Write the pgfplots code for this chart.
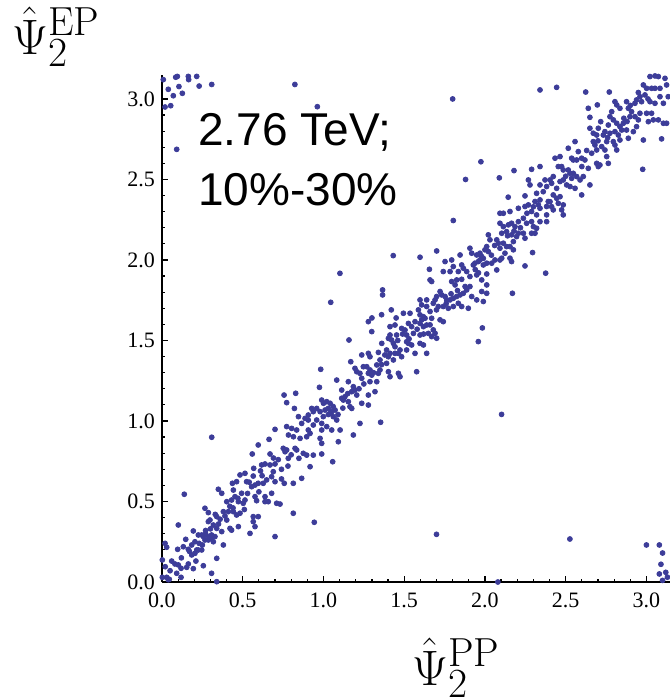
\documentclass[border=0pt]{standalone}
\usepackage{pgfplots}
\pgfplotsset{compat=1.18}
\usepackage{fontspec}
\newfontfamily\serifnum{Liberation Serif}
\newfontfamily\arialfont{Liberation Sans}
\definecolor{ptblue}{RGB}{61,61,153}
\begin{document}
\begin{tikzpicture}
\begin{axis}[
  at={(0pt,0pt)}, anchor=south west,
  scale only axis, width=254pt, height=253.6pt,
  xmin=0, xmax=3.146, ymin=0, ymax=3.15,
  axis lines*=left,
  axis line style={line width=0.8pt, black},
  tick align=inside,
  xtick={0,0.5,1,1.5,2,2.5,3}, ytick={0,0.5,1,1.5,2,2.5,3},
  minor tick num=4,
  major tick length=3pt, minor tick length=1.7pt,
  tick style={black, line width=0.6pt},
  tick label style={font=\serifnum\fontsize{11}{13}\selectfont},
  /pgf/number format/.cd, fixed, fixed zerofill, precision=1, assume math mode=true, /pgfplots/.cd,
  xticklabel style={yshift=-1.8pt},
  clip=true,
]
\addplot[only marks, mark=*, mark size=1.22pt, color=ptblue, mark options={draw=none, fill=ptblue}] coordinates {
(0.596,0.851)(0.559,0.795)(0.669,0.795)(0.751,0.830)(0.762,0.809)(0.782,0.768)(0.772,0.820)(0.824,0.830)(0.834,0.820)(0.848,0.768)
(0.875,0.799)(0.638,0.733)(0.617,0.727)(0.669,0.727)(0.689,0.685)(0.700,0.733)(0.568,0.706)(0.514,0.675)(0.483,0.665)(0.679,0.654)
(0.648,0.634)(0.627,0.613)(0.596,0.613)(0.576,0.602)(0.555,0.592)(0.565,0.658)(0.524,0.623)(0.462,0.623)(0.436,0.613)(0.757,0.613)
(0.813,0.613)(0.865,0.644)(0.700,0.623)(0.493,0.551)(0.442,0.571)(0.452,0.530)(0.431,0.509)(0.401,0.499)(0.473,0.499)(0.503,0.489)
(0.514,0.509)(0.349,0.576)(0.370,0.551)(0.576,0.530)(0.586,0.505)(0.638,0.530)(0.638,0.499)(0.658,0.499)(0.679,0.551)(0.710,0.489)
(0.731,0.484)(0.565,0.406)(0.565,0.375)(0.596,0.406)(0.576,0.344)(0.545,0.302)(0.700,0.282)(0.813,0.427)(0.411,0.437)(0.380,0.437)
(0.442,0.437)(0.462,0.416)(0.483,0.427)(0.339,0.406)(0.297,0.385)(0.287,0.375)(0.318,0.354)(0.339,0.333)(0.370,0.313)(0.401,0.385)
(0.421,0.333)(0.431,0.322)(0.473,0.344)(0.266,0.458)(0.287,0.431)(0.225,0.292)(0.246,0.292)(0.256,0.282)(0.266,0.261)(0.287,0.282)
(0.307,0.271)(0.328,0.282)(0.307,0.292)(0.287,0.261)(0.318,0.250)(0.380,0.230)(0.339,0.147)(0.194,0.317)(0.147,0.265)(0.184,0.230)
(0.204,0.250)(0.215,0.199)(0.246,0.199)(0.225,0.199)(0.163,0.203)(0.184,0.168)(0.204,0.178)(0.132,0.219)(0.097,0.203)(0.101,0.354)
(0.138,0.545)(0.019,0.240)(0.029,0.216)(0.002,0.137)(0.080,0.112)(0.101,0.106)(0.118,0.085)(0.091,0.054)(0.163,0.112)(0.153,0.091)
(0.194,0.083)(0.256,0.101)(0.307,0.054)(0.029,0.029)(0.002,0.029)(0.118,0.029)(0.339,0.002)(0.039,0.014)(0.020,0.095)(0.045,0.017)
(0.060,0.130)(0.120,0.150)(0.170,0.190)(0.230,0.240)(0.270,0.300)(0.350,0.360)(0.390,0.410)(0.330,0.420)(0.440,0.460)(0.510,0.450)
(0.530,0.550)(0.600,0.560)(0.620,0.660)(0.740,0.700)(0.780,0.720)(0.800,0.790)(0.690,0.770)(0.050,0.070)(0.210,0.130)
(0.308,0.899)(0.700,0.948)(0.663,0.886)
(0.250,0.230)(0.270,0.320)(0.300,0.330)(0.360,0.390)(0.420,0.470)(0.470,0.520)(0.540,0.620)(0.610,0.690)(0.720,0.760)(0.740,0.640)
(1.278,1.617)(1.299,1.555)(1.412,1.586)(1.443,1.596)(1.484,1.575)(1.505,1.565)(1.526,1.606)(1.546,1.586)(1.567,1.617)(1.598,1.606)
(1.619,1.586)(1.639,1.596)(1.650,1.544)(1.598,1.534)(1.557,1.544)(1.515,1.534)(1.453,1.534)(1.412,1.534)(1.402,1.513)(1.422,1.503)
(1.433,1.482)(1.361,1.482)(1.391,1.441)(1.443,1.461)(1.464,1.420)(1.474,1.441)(1.484,1.399)(1.515,1.441)(1.515,1.492)(1.526,1.482)
(1.546,1.472)(1.567,1.420)(1.598,1.482)(1.619,1.472)(1.158,1.503)(1.237,1.410)(1.278,1.420)(1.288,1.399)(1.340,1.426)(1.391,1.358)
(1.402,1.399)(1.433,1.379)(1.443,1.420)(1.412,1.420)(1.350,1.379)(1.330,1.348)(1.340,1.296)(1.350,1.317)(1.169,1.368)(1.195,1.327)
(1.206,1.306)(1.226,1.296)(1.247,1.337)(1.268,1.337)(1.278,1.296)(1.288,1.317)(1.299,1.285)(1.237,1.265)(1.288,1.244)(1.330,1.244)
(1.402,1.306)(1.412,1.275)(1.464,1.296)(1.474,1.275)(1.577,1.306)(0.983,1.321)(1.082,1.254)(1.154,1.244)(1.185,1.213)(1.195,1.192)
(1.175,1.182)(1.113,1.192)(1.133,1.151)(1.113,1.141)(1.123,1.130)(1.154,1.120)(1.164,1.089)(1.175,1.078)(1.206,1.161)(1.237,1.110)
(1.278,1.161)(1.319,1.182)(1.278,1.099)(0.975,1.209)(0.756,1.161)(0.828,1.172)(0.772,1.114)(0.820,1.078)(0.989,1.130)(1.000,1.110)
(1.020,1.120)(1.041,1.110)(1.030,1.078)(1.010,1.068)(1.041,1.047)(1.051,1.058)(1.072,1.068)(1.061,1.027)(0.999,1.027)(0.958,1.078)
(0.927,1.078)(0.937,1.058)(0.979,1.058)(0.906,1.037)(0.886,1.016)(0.906,1.006)(0.845,1.027)(0.865,0.985)(1.082,1.006)(1.103,0.944)
(1.051,0.944)(1.020,0.965)(0.989,0.985)(0.989,0.944)(0.958,1.006)(0.937,0.975)(0.917,0.923)(0.906,0.944)(0.896,0.902)(0.979,0.892)
(0.989,0.861)(1.092,0.871)(1.185,0.913)(1.226,0.985)(1.354,0.992)(0.772,0.965)(0.803,0.954)(0.834,0.944)(0.783,0.913)(0.814,0.902)
(0.855,0.892)(0.896,0.788)(0.937,0.788)(0.989,0.795)(0.917,0.716)(1.057,0.747)(1.639,1.420)
(1.360,1.660)(1.420,1.690)(1.450,1.640)(1.300,1.640)
(1.030,1.040)(1.060,1.090)(1.090,1.040)(1.120,1.080)(1.150,1.170)(1.220,1.200)(1.250,1.230)(1.310,1.300)(1.360,1.350)(1.380,1.410)
(1.460,1.500)(1.490,1.540)(1.530,1.510)(1.580,1.570)(1.620,1.540)(1.660,1.680)(1.700,1.690)(1.760,1.730)(1.790,1.790)(1.830,1.810)
(2.093,2.290)(2.114,2.290)(2.155,2.301)(2.207,2.321)(2.248,2.332)(2.269,2.342)(2.310,2.363)(2.331,2.342)(2.341,2.321)(2.382,2.332)
(2.392,2.363)(2.289,2.301)(2.320,2.280)(2.382,2.280)(1.804,2.245)(2.093,2.228)(2.114,2.207)(2.104,2.166)(2.145,2.218)(2.165,2.228)
(2.186,2.207)(2.207,2.238)(2.238,2.259)(2.258,2.228)(2.289,2.238)(2.300,2.207)(2.320,2.197)(2.341,2.238)(2.382,2.238)(2.134,2.176)
(2.165,2.156)(2.176,2.114)(2.196,2.145)(2.207,2.166)(2.238,2.166)(2.248,2.135)(2.289,2.166)(2.310,2.166)(2.021,2.156)(2.031,2.125)
(2.073,2.125)(2.083,2.104)(2.093,2.073)(2.114,2.104)(2.134,2.083)(2.155,2.083)(2.176,2.063)(2.124,2.042)(1.907,2.073)(1.918,2.042)
(1.949,2.031)(1.969,2.042)(1.980,2.021)(2.000,2.063)(2.011,2.083)(2.021,2.052)(1.959,1.990)(1.938,1.980)(1.928,1.969)(1.969,2.000)
(1.990,1.969)(2.011,1.980)(2.042,1.980)(2.062,2.000)(2.073,1.938)(2.093,2.000)(2.104,2.011)(2.155,2.011)(2.165,1.990)(1.701,2.056)
(1.598,2.017)(1.753,1.990)(1.794,2.000)(1.846,2.031)(1.856,1.969)(1.804,1.959)(2.248,1.963)(2.295,2.046)(2.376,1.918)(1.656,1.942)
(1.742,1.928)(1.784,1.928)(1.835,1.928)(1.866,1.949)(1.887,1.928)(1.907,1.897)(1.949,1.907)(2.011,1.913)(1.980,1.876)(1.660,1.876)
(1.670,1.866)(1.825,1.876)(1.856,1.880)(1.794,1.866)(1.815,1.845)(1.877,1.835)(1.907,1.835)(1.887,1.814)(1.980,1.804)(2.011,1.845)
(2.011,1.793)(2.170,1.793)(1.722,1.804)(1.732,1.783)(1.753,1.773)(1.763,1.752)(1.784,1.752)(1.804,1.762)(1.825,1.773)(1.846,1.783)
(1.866,1.793)(1.918,1.773)(1.949,1.752)(1.990,1.742)(1.691,1.752)(1.701,1.773)(1.680,1.731)(1.711,1.711)(1.742,1.711)(1.773,1.700)
(1.804,1.711)(1.835,1.731)(1.856,1.711)(1.897,1.700)(1.598,1.752)(1.639,1.752)(1.608,1.721)(1.639,1.711)(1.588,1.690)(1.536,1.669)
(1.598,1.659)(1.618,1.648)(1.629,1.638)(1.608,1.628)(1.670,1.638)(1.660,1.597)(1.680,1.566)(1.691,1.545)(1.670,1.524)(1.701,1.514)
(1.722,1.628)(1.742,1.617)(1.495,1.669)(1.984,1.578)(1.959,1.493)
(1.940,1.940)(1.960,1.920)(1.990,2.010)(2.040,2.030)(2.060,2.090)(2.140,2.150)(2.180,2.180)(2.220,2.200)(2.260,2.290)(2.300,2.330)
(2.341,3.056)(2.444,3.072)(2.624,3.043)(2.770,3.043)(3.022,3.139)(3.053,3.143)(3.074,3.139)(3.115,3.128)(3.125,3.087)(3.084,3.066)
(3.053,3.066)(3.032,3.066)(3.001,3.066)(2.981,3.087)(2.991,3.025)(2.960,3.014)(2.939,2.994)(2.929,2.973)(2.970,2.983)(3.022,2.983)
(3.053,2.973)(3.084,3.014)(3.105,2.973)(3.135,3.014)(2.640,2.942)(2.696,2.963)(2.805,2.983)(2.816,2.963)(2.877,2.983)(2.888,2.942)
(2.908,2.921)(2.898,2.890)(2.836,2.942)(2.785,2.921)(2.774,2.890)(2.795,2.870)(2.816,2.849)(2.836,2.828)(2.857,2.849)(2.847,2.807)
(2.929,2.890)(2.950,2.870)(2.960,2.911)(3.001,2.911)(3.032,2.911)(3.012,2.859)(3.043,2.870)(3.074,2.870)(3.105,2.849)(3.125,2.849)
(3.094,2.752)(2.939,2.828)(2.919,2.797)(2.877,2.807)(2.888,2.756)(2.981,2.745)(2.650,2.886)(2.717,2.859)(2.764,2.838)(2.702,2.818)
(2.743,2.797)(2.774,2.787)(2.805,2.797)(2.826,2.776)(2.836,2.745)(2.795,2.735)(2.754,2.735)(2.733,2.776)(2.692,2.776)(2.671,2.787)
(2.650,2.818)(2.671,2.735)(2.681,2.714)(2.692,2.683)(2.661,2.663)(2.723,2.704)(2.743,2.683)(2.754,2.642)(2.764,2.600)(2.805,2.714)
(2.816,2.683)(2.558,2.735)(2.516,2.694)(2.578,2.673)(2.599,2.632)(2.568,2.621)(2.547,2.621)(2.537,2.632)(2.619,2.621)(2.640,2.569)
(2.712,2.590)(2.702,2.580)(2.692,2.600)(2.434,2.632)(2.465,2.642)(2.475,2.580)(2.454,2.580)(2.485,2.559)(2.516,2.559)(2.527,2.538)
(2.547,2.538)(2.537,2.507)(2.568,2.518)(2.589,2.497)(2.609,2.518)(2.650,2.466)(2.599,2.404)(2.527,2.456)(2.558,2.445)(2.506,2.466)
(2.465,2.487)(2.485,2.497)(2.423,2.518)(2.413,2.476)(2.444,2.445)(2.403,2.497)(2.289,2.563)(2.341,2.580)(2.269,2.497)(2.279,2.466)
(2.341,2.466)(2.372,2.497)(2.382,2.456)(2.361,2.424)(2.320,2.414)(2.248,2.398)(2.341,2.373)(2.977,2.563)(2.423,2.404)(2.444,2.383)
(2.465,2.393)(2.454,2.352)(2.485,2.342)(2.475,2.311)(2.485,2.280)(2.423,2.311)(2.403,2.362)(2.413,2.331)
(2.500,2.520)(2.600,2.580)(2.630,2.680)(2.700,2.740)(2.760,2.760)(2.860,2.880)(2.900,2.960)(2.950,3.040)(3.010,3.000)(2.880,2.860)
(1.102,1.917)(1.045,1.737)(1.366,1.814)(1.366,1.783)(1.432,2.027)(1.975,2.610)(1.880,2.500)(2.089,2.510)(2.180,2.555)(2.144,2.390)
(1.800,3.000)(0.823,3.090)(0.962,2.952)(2.103,1.041)(0.943,0.371)(1.700,0.296)(2.526,0.267)(2.080,0.000)
(3.000,0.230)(3.080,0.230)(3.100,0.180)(3.090,0.110)(3.080,0.050)(3.120,0.060)(3.100,0.010)(3.130,0.030)
(0.019,2.950)(0.054,2.958)(0.039,3.060)(0.070,3.020)(0.105,3.077)(0.126,3.035)(0.085,3.135)(0.095,3.140)(0.163,3.140)(0.215,3.140)
(0.165,3.120)(0.230,3.080)(0.308,3.090)(0.091,2.687)(0.008,3.120)
};
\end{axis}
\node[anchor=base west, inner sep=0pt] at (125pt,-51.5pt) {\fontsize{29}{34}\selectfont $\hat{\Psi}_2^{\mathrm{PP}}$};
\node[anchor=base west, inner sep=0pt] at (-75pt,264pt) {\fontsize{29}{34}\selectfont $\hat{\Psi}_2^{\mathrm{EP}}$};
\node[anchor=base west, inner sep=0pt, font=\arialfont\fontsize{23}{27}\selectfont] at (18pt,218.5pt) {2.76 TeV;};
\node[anchor=base west, inner sep=0pt, font=\arialfont\fontsize{23}{27}\selectfont] at (18pt,188.5pt) {10\%-30\%};
\pgfresetboundingbox
\path[use as bounding box] (-81pt,-58pt) rectangle (254pt,291pt);
\end{tikzpicture}
\end{document}
